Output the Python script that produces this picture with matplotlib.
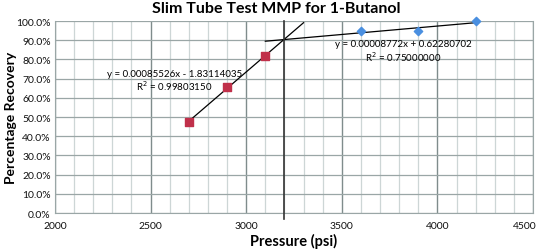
import numpy as np
import matplotlib
matplotlib.use("Agg")
import matplotlib.pyplot as plt
from matplotlib.ticker import MultipleLocator, FuncFormatter

# data
pre_mmp_psi = [2700, 2900, 3100]
pre_mmp_rec = [0.4737, 0.6579, 0.8158]
post_mmp_psi = [3600, 3900, 4200]
post_mmp_rec = [0.9474, 0.9474, 1.0]
mmp_psi = 3200
x_ticks = [2000, 2500, 3000, 3500, 4000, 4500]

plt.rcParams["font.family"] = ["Lato", "DejaVu Sans"]

fig = plt.figure(figsize=(5.42, 2.53), dpi=100)
ax = fig.add_axes([55 / 542, 0.154, 478 / 542, 0.759])

ax.set_xlim(2000, 4500)
ax.set_ylim(0, 1.0)
ax.set_xticks(x_ticks)
ax.xaxis.set_minor_locator(MultipleLocator(100))
ax.yaxis.set_major_locator(MultipleLocator(0.1))
ax.yaxis.set_major_formatter(FuncFormatter(lambda v, _: f"{v*100:.1f}%"))

ax.grid(which="minor", axis="x", color="#cdd6d6", linewidth=0.9)
ax.grid(which="major", axis="x", color="#7f8c8c", linewidth=1.0)
ax.grid(which="major", axis="y", color="#9aa6a6", linewidth=0.9)
ax.set_axisbelow(True)
ax.spines["top"].set_visible(False)
for s in ["left", "bottom", "right"]:
    ax.spines[s].set_color("#9aa6a6")
ax.tick_params(which="both", length=0, labelsize=7.5, pad=3, labelcolor="#111111")
ax.tick_params(axis="x", labelbottom=False)

# x tick labels drawn as annotations so the last one can sit inside the figure
for v in x_ticks:
    dx = -6 if v == x_ticks[-1] else 0
    ax.annotate(str(v), xy=(v, 0), xycoords=("data", "axes fraction"),
                xytext=(dx, -6), textcoords="offset points",
                ha="center", va="top", fontsize=7.5, color="#111111")

# linear trendlines
p1 = np.polyfit(pre_mmp_psi, pre_mmp_rec, 1)
x1 = np.array([pre_mmp_psi[0], pre_mmp_psi[-1] + 200])
ax.plot(x1, np.polyval(p1, x1), color="black", linewidth=0.9, zorder=3)
p2 = np.polyfit(post_mmp_psi, post_mmp_rec, 1)
x2 = np.array([post_mmp_psi[0] - 500, post_mmp_psi[-1]])
ax.plot(x2, np.polyval(p2, x2), color="black", linewidth=0.9, zorder=3)

ax.plot([mmp_psi, mmp_psi], [1.0, -0.03], color="#333333", linewidth=1.2,
        clip_on=False, zorder=3)

ax.scatter(pre_mmp_psi, pre_mmp_rec, marker="s", s=30, color="#c0304a", zorder=4)
ax.scatter(post_mmp_psi, post_mmp_rec, marker="D", s=18, color="#4a8fe0",
           zorder=4, clip_on=False)

ax.text(2625, 0.729, "y = 0.00085526x - 1.83114035", fontsize=7, ha="center", va="center")
ax.text(2625, 0.667, "R$^2$ = 0.99803150", fontsize=7, ha="center", va="center")
ax.text(3821, 0.885, "y = 0.00008772x + 0.62280702", fontsize=7, ha="center", va="center")
ax.text(3821, 0.818, "R$^2$ = 0.75000000", fontsize=7, ha="center", va="center")

fig.text(276 / 542, 1 - 9 / 253, "Slim Tube Test MMP for 1-Butanol", fontsize=11.5,
         fontweight="bold", ha="center", va="center")
ax.set_xlabel("Pressure (psi)", fontsize=10.5, fontweight="bold")
ax.xaxis.set_label_coords(0.5, -20 / 192)
ax.set_ylabel("Percentage Recovery", fontsize=10, fontweight="bold")
ax.yaxis.set_label_coords(-38 / 478, 0.5)

fig.savefig("out.png", dpi=100)
